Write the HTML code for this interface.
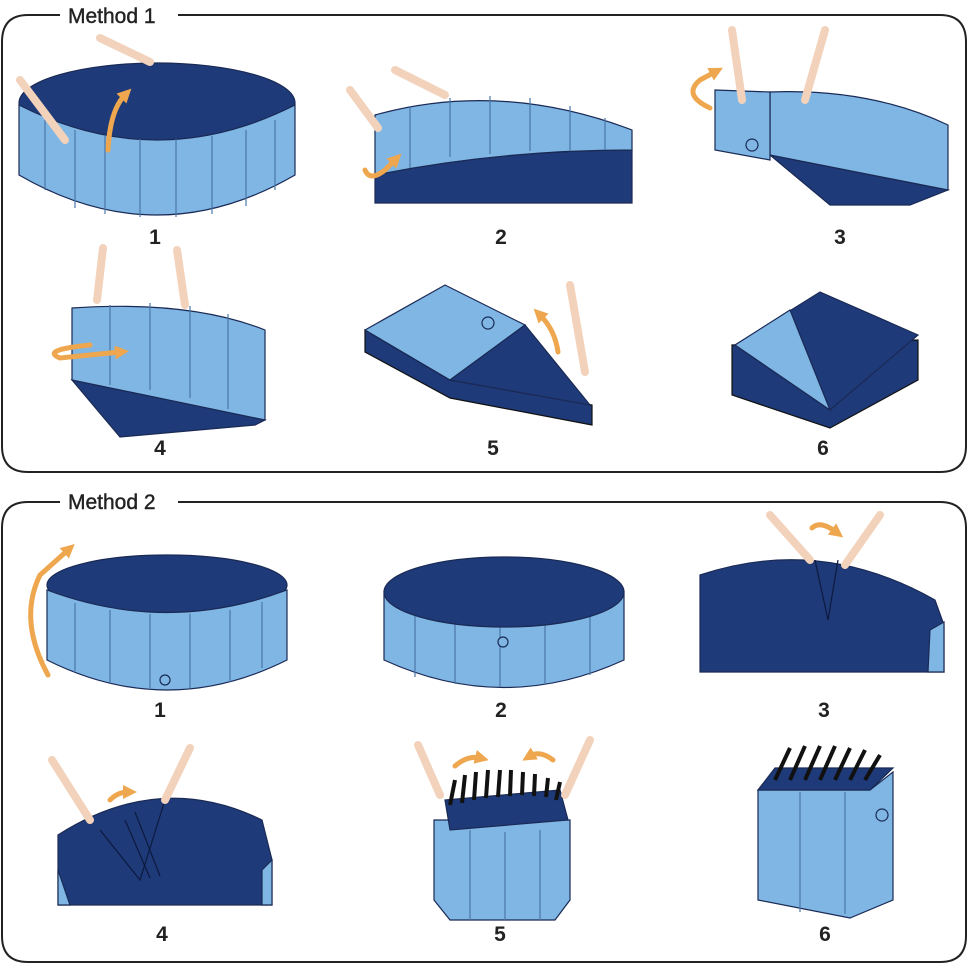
<!DOCTYPE html>
<html><head><meta charset="utf-8"><style>
html,body{margin:0;padding:0;background:#fff}
svg{display:block}
text{font-family:"Liberation Sans",sans-serif}
</style></head><body>
<svg width="968" height="968" viewBox="0 0 968 968" xmlns="http://www.w3.org/2000/svg">
<defs>
<marker id="ah" markerUnits="userSpaceOnUse" markerWidth="14" markerHeight="14" refX="5" refY="7" orient="auto"><path d="M0,0 L14,7 L0,14 Z" fill="#eea74f"/></marker>
</defs>
<g fill="none" stroke="#222" stroke-width="2">
<path d="M60,15 H28 Q2,15 2,42 V446 Q2,472 28,472 H940 Q966,472 966,446 V42 Q966,15 940,15 H178"/>
<path d="M60,502 H28 Q2,502 2,528 V936 Q2,962 28,962 H940 Q966,962 966,936 V528 Q966,502 940,502 H178"/>
</g>
<text x="68" y="23" font-size="21" fill="#222" stroke="#222" stroke-width="0.4">Method 1</text>
<text x="68" y="509" font-size="21" fill="#222" stroke="#222" stroke-width="0.4">Method 2</text>

<g stroke="#1a2a55" stroke-width="1.2">
<!-- M1-1 -->
<ellipse cx="157" cy="103" rx="138" ry="40" fill="#1f3a78"/>
<path d="M19,105 Q157,175 295,105 L295,175 Q157,255 19,175 Z" fill="#7fb6e4"/>
<path d="M45,120 v70 M75,130 v78 M105,136 v78 M140,139 v78 M176,139 v78 M212,136 v78 M246,130 v76 M275,120 v70" stroke="#4a78a8"/>
<!-- M1-2 -->
<path d="M375,175 Q500,150 632,150 L632,203 L375,203 Z" fill="#1f3a78"/>
<path d="M375,115 Q500,80 632,130 L632,150 Q500,150 375,175 Z" fill="#7fb6e4"/>
<path d="M410,106 v62 M450,98 v59 M490,96 v58 M530,98 v53 M570,106 v45 M605,118 v32" stroke="#4a78a8"/>
<!-- M1-3 -->
<path d="M770,155 L948,190 L910,205 L830,205 Z" fill="#1f3a78"/>
<path d="M770,92 Q870,88 948,125 L948,190 L770,155 Z" fill="#7fb6e4"/>
<path d="M715,90 L770,92 L770,160 L715,150 Z" fill="#7fb6e4"/>
<circle cx="752" cy="145" r="6" fill="#7fb6e4"/>
<!-- M1-4 -->
<path d="M72,380 L265,420 L255,425 L120,437 Z" fill="#1f3a78"/>
<path d="M72,308 Q190,300 265,330 L265,420 L72,380 Z" fill="#7fb6e4"/>
<path d="M110,305 v80 M150,303 v87 M190,306 v92 M228,314 v95" stroke="#4a78a8"/>
<!-- M1-5 -->
<path d="M365,330 L365,352 L450,398 L592,425 L592,405 L450,380 Z" fill="#1f3a78" stroke="#111"/>
<path d="M365,330 L445,285 L525,325 L450,380 Z" fill="#7fb6e4"/>
<path d="M525,325 L590,405 L450,380 Z" fill="#1f3a78"/>
<circle cx="488" cy="323" r="6" fill="#7fb6e4"/>
<!-- M1-6 -->
<path d="M732,345 L732,395 L830,428 L918,380 L918,340 Z" fill="#1f3a78" stroke="#111"/>
<path d="M735,345 L820,292 L918,335 L830,410 Z" fill="#1f3a78"/>
<path d="M735,345 L790,310 L830,410 Z" fill="#7fb6e4"/>
<!-- M2-1 -->
<ellipse cx="167" cy="585" rx="120" ry="30" fill="#1f3a78"/>
<path d="M47,590 Q167,635 287,590 L287,660 Q167,720 47,660 Z" fill="#7fb6e4"/>
<path d="M75,603 v68 M110,610 v72 M150,614 v74 M190,614 v74 M230,610 v72 M262,602 v66" stroke="#4a78a8"/>
<circle cx="165" cy="680" r="5" fill="#7fb6e4"/>
<!-- M2-2 -->
<path d="M384,592 L384,660 Q504,715 624,660 L624,592 Z" fill="#7fb6e4"/>
<path d="M415,615 v62 M455,622 v62 M500,625 v62 M545,622 v62 M590,615 v60" stroke="#4a78a8"/>
<ellipse cx="504" cy="592" rx="120" ry="35" fill="#1f3a78"/>
<circle cx="503" cy="642" r="5" fill="#7fb6e4"/>
<!-- M2-3 -->
<path d="M700,575 Q820,535 935,600 L944,625 L944,672 L700,672 Z" fill="#1f3a78"/>
<path d="M930,630 L944,622 L944,672 L928,672 Z" fill="#7fb6e4"/>
<path d="M815,560 L828,620 L838,560" fill="none" stroke="#0d1a40"/>
<!-- M2-4 -->
<path d="M58,835 Q160,770 262,820 L272,860 L272,905 L58,905 Z" fill="#1f3a78"/>
<path d="M58,870 L70,905 L58,905 Z M262,870 L272,860 L272,905 L262,905 Z" fill="#7fb6e4"/>
<path d="M100,830 L140,880 L165,800 M125,820 L150,878 M135,812 L160,876" fill="none" stroke="#0d1a40"/>
<!-- M2-5 -->
<path d="M434,820 L570,820 L570,900 L555,920 L450,920 L434,900 Z" fill="#7fb6e4"/>
<path d="M470,830 v90 M505,832 v88 M540,830 v90" stroke="#4a78a8"/>
<path d="M445,800 L560,790 L568,820 L450,830 Z" fill="#1f3a78"/>
<path d="M450,805 L455,780 M462,803 L465,775 M474,800 L476,772 M486,798 L488,770 M498,797 L500,770 M510,796 L511,770 M522,795 L523,772 M534,796 L535,774 M546,797 L548,778 M556,800 L560,782" stroke="#111" stroke-width="4"/>
<!-- M2-6 -->
<path d="M758,790 L870,790 L893,772 L893,900 L850,918 L758,900 Z" fill="#7fb6e4"/>
<path d="M800,792 v120 M845,792 v122" stroke="#4a78a8"/>
<path d="M758,790 L775,768 L893,768 L870,790 Z" fill="#1f3a78"/>
<path d="M775,780 L790,748 M790,780 L805,746 M805,780 L820,746 M820,780 L835,746 M835,780 L850,748 M850,780 L865,750 M865,780 L880,755" stroke="#111" stroke-width="4"/>
<circle cx="882" cy="815" r="6" fill="#7fb6e4"/>
</g>

<g stroke="#f3d2bb" stroke-width="8" stroke-linecap="round" fill="none">
<path d="M20,80 L65,140 M100,38 L150,62 M350,90 L378,128 M395,70 L445,95 M732,30 L742,100 M825,30 L805,100 M103,248 L97,300 M177,250 L185,305 M570,285 L585,372 M770,515 L810,560 M880,515 L845,565 M52,760 L90,820 M190,748 L165,800 M418,745 L440,795 M590,740 L565,795"/>
</g>
<g stroke="#eea74f" stroke-width="5" fill="none" stroke-linecap="round" marker-end="url(#ah)">
<path d="M108,150 Q110,110 125,95"/>
<path d="M365,170 Q370,182 385,170 L395,160"/>
<path d="M710,108 Q682,95 700,80 L715,72"/>
<path d="M90,345 Q40,350 60,358 L120,352"/>
<path d="M558,352 Q555,330 540,315"/>
<path d="M48,675 Q18,620 40,575 L68,550"/>
<path d="M812,528 Q820,520 836,532"/>
<path d="M110,800 Q118,792 128,792"/>
<path d="M455,766 Q468,755 480,758"/>
<path d="M553,760 Q540,750 530,756"/>
</g>

<g font-size="21" font-weight="bold" fill="#222" text-anchor="middle">
<text x="155" y="244">1</text><text x="501" y="244">2</text><text x="840" y="244">3</text>
<text x="160" y="455">4</text><text x="493" y="455">5</text><text x="823" y="455">6</text>
<text x="160" y="717">1</text><text x="501" y="717">2</text><text x="824" y="717">3</text>
<text x="162" y="941">4</text><text x="500" y="941">5</text><text x="825" y="941">6</text>
</g>
</svg>
</body></html>
